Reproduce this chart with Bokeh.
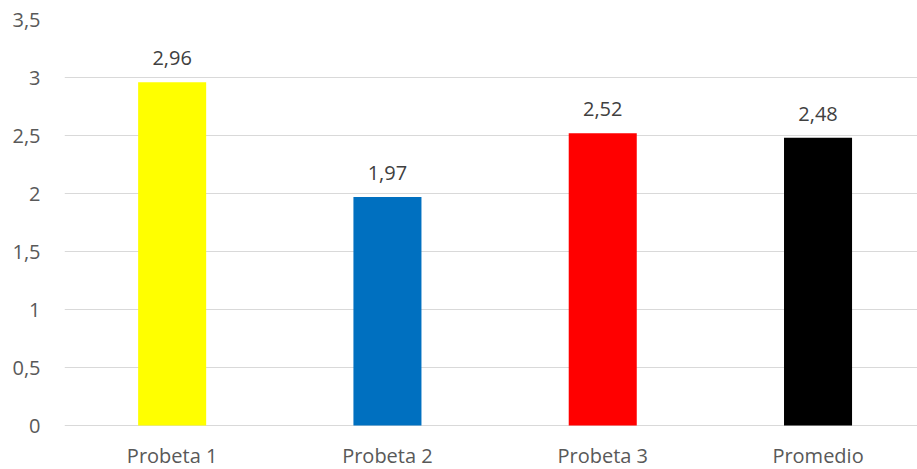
from bokeh.plotting import figure
from bokeh.models import (ColumnDataSource, Range1d, FixedTicker, CustomJSTickFormatter,
                          LabelSet)
from bokeh.core.properties import value
from bokeh.embed import file_html
from bokeh.resources import INLINE

categories = ["Probeta 1", "Probeta 2", "Probeta 3", "Promedio"]
values = [2.96, 1.97, 2.52, 2.48]
colors = ["#FFFF00", "#0070C0", "#FF0000", "#000000"]
y_ticks = [0, 0.5, 1, 1.5, 2, 2.5, 3, 3.5]

FONT = "Open Sans"

xs = [i + 0.5 for i in range(len(categories))]
labels = [f"{v:.2f}".replace(".", ",") for v in values]
src = ColumnDataSource(dict(x=xs, top=values, color=colors, label=labels,
                            cat=categories, zero=[0] * len(categories)))

# frame extends below zero so that category labels can be drawn inside it
p = figure(width=917, height=469, output_backend="svg", toolbar_location=None,
           x_range=Range1d(0, 3.962), y_range=Range1d(-0.3793, 3.5),
           min_border_left=64, min_border_right=0, min_border_top=19, min_border_bottom=0)
p.outline_line_color = None
p.background_fill_color = "white"
p.border_fill_color = "white"

p.vbar(x="x", top="top", width=0.316, bottom=0, color="color", source=src, line_color=None)

# value labels
p.add_layout(LabelSet(x="x", y="top", text="label", source=src, text_align="center",
                      text_baseline="alphabetic", y_offset=17, text_color="#404040",
                      text_font=value(FONT), text_font_size="20px"))

# category labels (drawn below the zero line)
p.add_layout(LabelSet(x="x", y="zero", text="cat", source=src, text_align="center",
                      text_baseline="alphabetic", y_offset=-37, text_color="#595959",
                      text_font=value(FONT), text_font_size="20px"))

p.xaxis.visible = False
p.xgrid.grid_line_color = None

# y axis
p.yaxis.ticker = FixedTicker(ticks=y_ticks)
p.yaxis.formatter = CustomJSTickFormatter(code="return tick.toString().replace('.', ',');")
p.yaxis.axis_line_color = None
p.yaxis.major_tick_line_color = None
p.yaxis.minor_tick_line_color = None
p.yaxis.major_tick_in = 0
p.yaxis.major_tick_out = 0
p.yaxis.major_label_standoff = 24
p.yaxis.major_label_text_font = FONT
p.yaxis.major_label_text_font_size = "20px"
p.yaxis.major_label_text_color = "#595959"
p.ygrid.ticker = FixedTicker(ticks=y_ticks)
p.ygrid.grid_line_color = "#D9D9D9"
p.ygrid.grid_line_width = 1

open("out.html", "w").write(file_html(p, INLINE))
